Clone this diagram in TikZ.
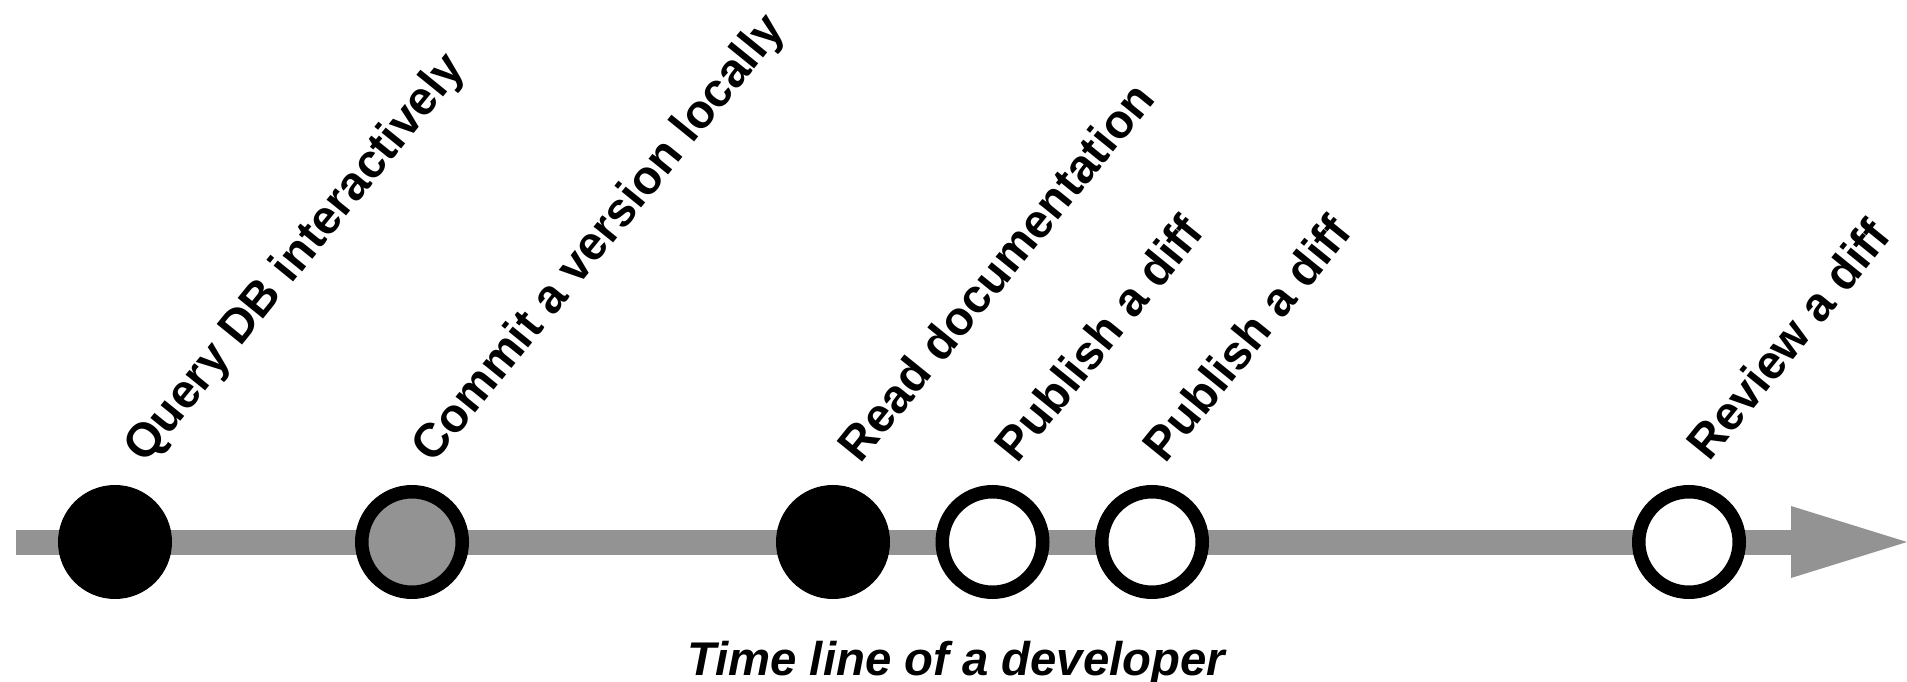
\documentclass[tikz,border=0pt]{standalone}
\usepackage{fontspec}
\setmainfont{Liberation Sans}
\definecolor{axisgray}{RGB}{147,147,147}
\begin{document}
\begin{tikzpicture}[x=1pt,y=1pt,
  event/.style={circle, draw=black, line width=13.5pt, minimum size=100.5pt,
                inner sep=0pt, outer sep=0pt},
  evlabel/.style={anchor=base west, rotate=51, inner sep=0pt,
                  font=\bfseries\fontsize{47.5}{57}\selectfont},
  caption/.style={anchor=base west, inner sep=0pt,
                  font=\bfseries\itshape\fontsize{47.3}{57}\selectfont}]
\useasboundingbox (0,0) rectangle (1907,681);

% time axis with its arrow head
\coordinate (start) at (16,139);
\coordinate (headbase) at (1791,139);
\coordinate (tip) at (1907,139);
\draw[axisgray, line width=25pt] (start) -- ([xshift=2pt]headbase);
\fill[axisgray] ([yshift=36pt]headbase) -- (tip) -- ([yshift=-36pt]headbase) -- cycle;

% events on the time line
\node[event, fill=black]    (e1) at (115,139) {};
\node[event, fill=axisgray] (e2) at (412,139) {};
\node[event, fill=black]    (e3) at (833,139) {};
\node[event, fill=white]    (e4) at (992.5,139) {};
\node[event, fill=white]    (e5) at (1152,139) {};
\node[event, fill=white]    (e6) at (1689,139) {};

% slanted event names
\node[evlabel] (l1) at (145.5,216) {Query DB interactively};
\node[evlabel] (l2) at (433.7,216) {Commit a version locally};
\node[evlabel] (l3) at (860.8,216.3) {Read documentation};
\node[evlabel] (l4) at (1017.8,216.3) {Publish a diff};
\node[evlabel] (l5) at (1165.8,216.3) {Publish a diff};
\node[evlabel] (l6) at (1709.8,218.3) {Review a diff};

% axis caption
\node[caption] (cap) at (687,6) {Time line of a developer};
\end{tikzpicture}
\end{document}
